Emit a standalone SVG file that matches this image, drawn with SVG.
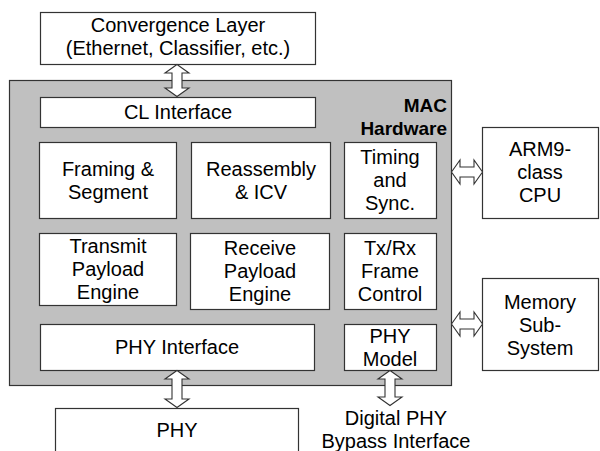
<svg xmlns="http://www.w3.org/2000/svg" width="600" height="451" viewBox="0 0 600 451">
<style>
.box{fill:#fff;stroke:#333;stroke-width:1.2}
.mac{fill:#c0c0c0;stroke:#333;stroke-width:1.2}
.arr{fill:#fff;stroke:#333;stroke-width:1.1;stroke-linejoin:miter}
text{font-family:"Liberation Sans",Arial,sans-serif;font-size:20px;fill:#000;text-anchor:middle}
.b{font-weight:bold;font-size:19px;text-anchor:end}
</style>
<rect width="600" height="451" fill="#fff"/>
<g id="mac-hardware">
<rect class="mac" x="9.5" y="80.5" width="442" height="305"/>
<text class="b" x="447" y="112">MAC</text>
<text class="b" x="447" y="135">Hardware</text>
</g>
<g id="convergence-layer">
<rect class="box" x="40.5" y="12.5" width="275" height="52"/>
<text x="178" y="32">Convergence Layer</text>
<text x="178" y="55">(Ethernet, Classifier, etc.)</text>
</g>
<g id="cl-interface">
<rect class="box" x="40.5" y="97.5" width="275" height="30"/>
<text x="178" y="119">CL Interface</text>
</g>
<g id="framing">
<rect class="box" x="39.5" y="142.5" width="137" height="76"/>
<text x="108" y="175.5">Framing &amp;</text>
<text x="108" y="198.5">Segment</text>
</g>
<g id="reassembly">
<rect class="box" x="191.5" y="142.5" width="139" height="76"/>
<text x="261" y="175.5">Reassembly</text>
<text x="261" y="198.5">&amp; ICV</text>
</g>
<g id="timing">
<rect class="box" x="344.5" y="142.5" width="92" height="76"/>
<text x="390" y="164">Timing</text>
<text x="390" y="187">and</text>
<text x="390" y="210">Sync.</text>
</g>
<g id="transmit">
<rect class="box" x="39.5" y="233.5" width="137" height="72"/>
<text x="108" y="252.5">Transmit</text>
<text x="108" y="275.5">Payload</text>
<text x="108" y="298.5">Engine</text>
</g>
<g id="receive">
<rect class="box" x="190.5" y="233.5" width="139" height="76"/>
<text x="260" y="255">Receive</text>
<text x="260" y="278">Payload</text>
<text x="260" y="301">Engine</text>
</g>
<g id="txrx">
<rect class="box" x="344.5" y="233.5" width="92" height="76"/>
<text x="390" y="255">Tx/Rx</text>
<text x="390" y="278">Frame</text>
<text x="390" y="301">Control</text>
</g>
<g id="phy-interface">
<rect class="box" x="40.5" y="324.5" width="274" height="46"/>
<text x="177" y="354">PHY Interface</text>
</g>
<g id="phy-model">
<rect class="box" x="344.5" y="324.5" width="92" height="46"/>
<text x="390" y="342.5">PHY</text>
<text x="390" y="365.5">Model</text>
</g>
<g id="arm-cpu">
<rect class="box" x="482.5" y="127.5" width="116" height="91"/>
<text x="540" y="156">ARM9-</text>
<text x="540" y="179">class</text>
<text x="540" y="202">CPU</text>
</g>
<g id="memory">
<rect class="box" x="482.5" y="278.5" width="116" height="92"/>
<text x="540" y="308.5">Memory</text>
<text x="540" y="331.5">Sub-</text>
<text x="540" y="354.5">System</text>
</g>
<g id="phy">
<rect class="box" x="55.5" y="408.5" width="243" height="60"/>
<text x="177" y="437">PHY</text>
</g>
<g id="digital-phy-bypass">
<text x="396" y="425">Digital PHY</text>
<text x="396" y="448">Bypass Interface</text>
</g>
<g id="connectors">
<polygon class="arr" points="177,64.5 189,73 182,73 182,88 189,88 177,96.5 165,88 172,88 172,73 165,73"/>
<polygon class="arr" points="177,370.5 189,379 182,379 182,399 189,399 177,407.5 165,399 172,399 172,379 165,379"/>
<polygon class="arr" points="390,370.5 402,379 395,379 395,397 402,397 390,405.5 378,397 385,397 385,379 378,379"/>
<polygon class="arr" points="451.5,172 460,160 460,167 474,167 474,160 482.5,172 474,184 474,177 460,177 460,184"/>
<polygon class="arr" points="451.5,324 460,312 460,319 474,319 474,312 482.5,324 474,336 474,329 460,329 460,336"/>
</g>
</svg>
